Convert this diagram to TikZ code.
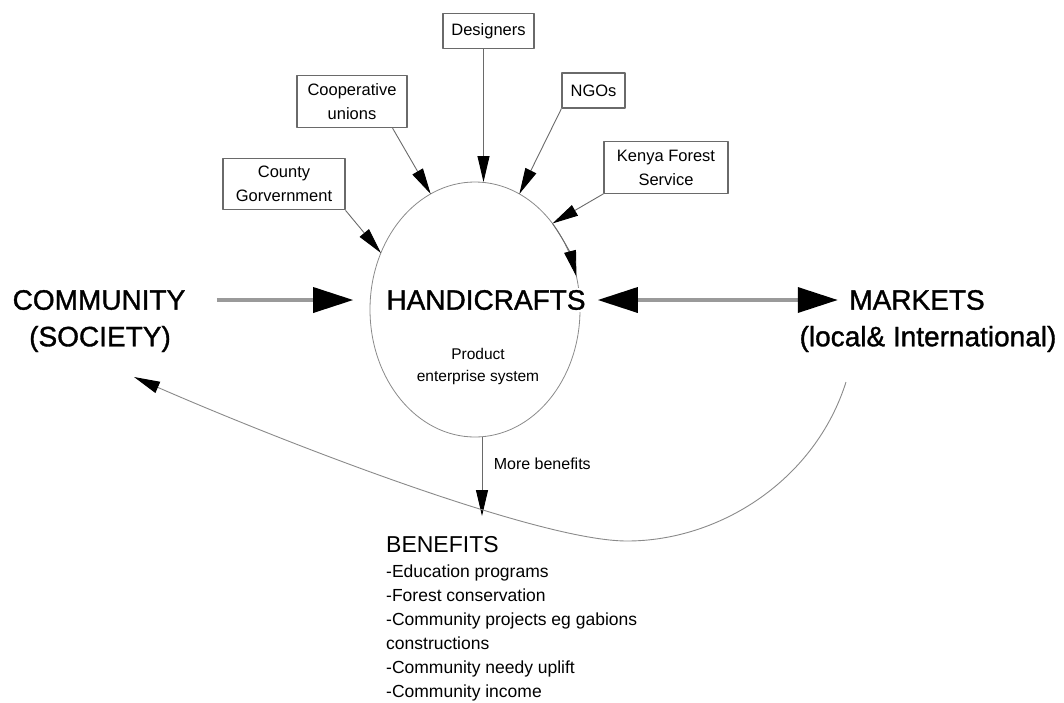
\documentclass[tikz,border=0pt]{standalone}
\usepackage{fontspec}
\setmainfont{Liberation Sans}
\usepackage{tikz}
\usetikzlibrary{arrows.meta,shapes.geometric,positioning}
\definecolor{wire}{HTML}{6A6A6A}
\definecolor{rim}{HTML}{8A8A8A}
\definecolor{fat}{HTML}{9A9A9A}
\tikzset{fig/.style={line join=round,x=1pt,y=-1pt},
 box/.style={draw=wire,line width=1.1pt,inner xsep=8pt,inner ysep=8pt,minimum height=35pt,align=center,font=\fontsize{16.5}{24}\selectfont},
 big/.style={font=\fontsize{28}{34}\selectfont\addfontfeature{FakeBold=1.2}},
 feed/.style={draw=wire,line width=0.9pt,-{Triangle[length=26pt,width=12pt,color=black]}},
 fatarr/.style={draw=fat,line width=3.5pt,-{Triangle[length=40pt,width=25pt,color=black]}},
 fatboth/.style={fatarr,{Triangle[length=40pt,width=25pt,color=black]}-{Triangle[length=40pt,width=25pt,color=black]}}}

\begin{document}
\begin{tikzpicture}[fig]
 \useasboundingbox (0,0) rectangle (1064,702);
 \node[draw=rim,line width=0.8pt,ellipse,minimum width=210pt,minimum height=255pt,inner sep=0pt,outer sep=0pt] (pes) at (475,309.5) {};
 \node[big,fill=white,inner sep=2pt] (hc) at (486,300) {HANDICRAFTS};
 \node[font=\fontsize{15.5}{22}\selectfont,align=center] (pestxt) at (478,366) {Product\\enterprise system};
 \node[big] (comm) at (99,300) {COMMUNITY};
 \node[big] (soc) at (100,339) {(SOCIETY)};
 \node[big] (mkt) at (917,300) {MARKETS};
 \node[big] (mktsub) at (928,339) {(local\& International)};

 \node[box,minimum width=91pt] (des) at (488.5,31) {Designers};
 \node[box,minimum width=110pt] (coop) at (352,101.5) {Cooperative\\unions};
 \node[box,minimum width=63pt] (ngo) at (593.5,90.5) {NGOs};
 \node[box,minimum width=124pt] (kfs) at (666,167.5) {Kenya Forest\\Service};
 \node[box,minimum width=122pt] (cty) at (284,184) {County\\Gorvernment};

 \draw[feed] (cty.south east) -- (pes.149);
 \draw[feed] ([xshift=-15pt]coop.south east) -- (pes.111);
 \draw[feed] ([xshift=-5pt]des.south) -- ([xshift=-5pt]des.south |- pes.north);
 \draw[feed] (ngo.south west) -- (pes.69);
 \draw[feed] (kfs.south west) -- (pes.48);
 \draw[feed] (pes.48) to[bend left=10] (pes.18);

 \draw[fatarr] ([xshift=28pt]comm.east) -- ([xshift=-31pt]hc.west);
 \draw[fatboth] ([xshift=10pt]hc.east) -- ([xshift=-8pt]mkt.west);

 \coordinate (meet) at (482,516);
 \draw[feed] ([xshift=7pt]pes.south) -- (meet) node[pos=.34,right=8pt,font=\fontsize{16}{20}\selectfont] (mb) {More benefits};

 \coordinate (loopin) at (846,382);
 \coordinate (looptip) at (134,377);
 \draw[feed,draw=rim] (loopin) .. controls (815,480) and (720,541) .. (627,541) .. controls (540,541) and (290,445) .. (looptip);

 \node[anchor=base west,inner sep=0pt,font=\fontsize{23}{28}\selectfont] (ben) at (386,552) {BENEFITS};
 \node[anchor=north west,inner sep=0pt,align=left,font=\fontsize{17.5}{24}\selectfont] (benlist) at (386,565) {-Education programs\\-Forest conservation\\-Community projects eg gabions\\constructions\\-Community needy uplift\\-Community income};
\end{tikzpicture}
\end{document}
